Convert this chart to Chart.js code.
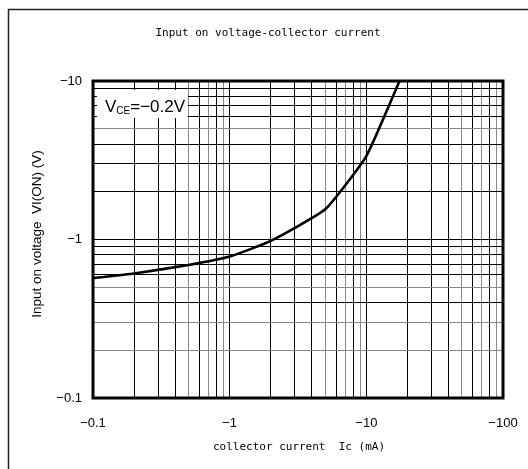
<!DOCTYPE html>
<html>
<head>
<meta charset="utf-8">
<script src="https://cdn.jsdelivr.net/npm/chart.js@4"></script>
<style>
  html, body { margin: 0; padding: 0; background: #fff; }
  #wrap { width: 528px; height: 469px; position: relative; }
</style>
</head>
<body>
<div id="wrap"><canvas id="chart" width="528" height="469"></canvas></div>
<script>
// collector current Ic (mA) and input on voltage VI(ON) (V)
const collectorCurrent = [-0.1, -0.2, -0.5, -1, -2, -5, -10, -17.5];
const inputOnVoltage = [-0.57, -0.61, -0.69, -0.78, -0.98, -1.55, -3.36, -10];
const xTickLabels = ['-0.1', '-1', '-10', '-100'];
const yTickLabels = ['-0.1', '-1', '-10'];

const titleText = 'Input on voltage-collector current';
const xTitle = 'collector current  Ic (mA)';
const yTitle = 'Input on voltage  VI(ON) (V)';

// log scales need positive numbers, the sign goes back in the labels
const points = collectorCurrent.map((x, i) => ({ x: Math.abs(x), y: Math.abs(inputOnVoltage[i]) }));

function decadeTicks(min, max) {
    const out = [];
    for (let d = min; d < max; d *= 10) {
        for (let m = 1; m < 10; m++) out.push({ value: +(d * m).toPrecision(3) });
    }
    out.push({ value: max });
    return out;
}

function labelFor(list, v) {
    const hit = list.find(t => Math.abs(Math.abs(parseFloat(t)) - v) < 1e-9);
    return hit ? hit.replace('-', '\u2212') : '';
}

function mantissa(v) {
    return Math.round(v / Math.pow(10, Math.floor(Math.log10(v) + 1e-9)));
}

const frame = {
    id: 'frame',
    beforeDraw(chart) {
        const ctx = chart.ctx;
        ctx.save();
        ctx.strokeStyle = '#222';
        ctx.lineWidth = 1.5;
        ctx.beginPath();
        ctx.moveTo(8.5, 600);
        ctx.lineTo(8.5, 9.5);
        ctx.lineTo(600, 9.5);
        ctx.stroke();
        ctx.restore();
    },
    afterDatasetsDraw(chart) {
        const ctx = chart.ctx;
        const a = chart.chartArea;
        ctx.save();
        // label box
        ctx.fillStyle = '#fff';
        ctx.fillRect(a.left + 4, a.top + 9, 91, 28);
        ctx.fillStyle = '#000';
        ctx.textBaseline = 'alphabetic';
        ctx.textAlign = 'left';
        let x = a.left + 12;
        const base = a.top + 31;
        ctx.font = '17px "Liberation Sans", Arial, sans-serif';
        ctx.fillText('V', x, base);
        x += ctx.measureText('V').width;
        ctx.font = '10px "Liberation Sans", Arial, sans-serif';
        ctx.fillText('CE', x, base + 2);
        x += ctx.measureText('CE').width;
        ctx.font = '17px "Liberation Sans", Arial, sans-serif';
        ctx.fillText('=\u22120.2V', x, base);

        // plot border
        ctx.strokeStyle = '#000';
        ctx.lineWidth = 3;
        ctx.strokeRect(a.left, a.top, a.right - a.left, a.bottom - a.top);

        // titles
        ctx.font = '11px "DejaVu Sans Mono", "Liberation Mono", monospace';
        ctx.textAlign = 'center';
        ctx.textBaseline = 'middle';
        ctx.fillText(titleText, 268, 33);
        ctx.fillText(xTitle, 299, 447);
        ctx.font = '13.5px "Liberation Sans", Arial, sans-serif';
        ctx.translate(37, 234);
        ctx.rotate(-Math.PI / 2);
        ctx.fillText(yTitle, 0, 0);
        ctx.restore();
    }
};

new Chart(document.getElementById('chart'), {
    type: 'line',
    data: {
        datasets: [{
            data: points,
            borderColor: '#000',
            borderWidth: 2.6,
            pointRadius: 0,
            tension: 0.15,
            fill: false
        }]
    },
    options: {
        responsive: false,
        animation: false,
        layout: { padding: { top: 81, right: 25, left: 0, bottom: 0 } },
        plugins: { legend: { display: false }, tooltip: { enabled: false } },
        scales: {
            x: {
                type: 'logarithmic',
                min: 0.1,
                max: 100,
                afterBuildTicks: s => { s.ticks = decadeTicks(0.1, 100); },
                afterFit: s => { s.height = 71; s.paddingLeft = 0; s.paddingRight = 0; },
                grid: {
                    drawTicks: false,
                    lineWidth: 1,
                    color: c => [5, 7, 9].includes(mantissa(c.tick.value)) ? '#8a8a8a' : '#000'
                },
                border: { display: false },
                ticks: {
                    autoSkip: false,
                    maxRotation: 0,
                    padding: 18,
                    color: '#000',
                    font: { family: '"Liberation Sans", Arial, sans-serif', size: 13 },
                    callback: v => labelFor(xTickLabels, v)
                }
            },
            y: {
                type: 'logarithmic',
                min: 0.1,
                max: 10,
                afterBuildTicks: s => { s.ticks = decadeTicks(0.1, 10); },
                afterFit: s => { s.width = 93; s.paddingTop = 0; s.paddingBottom = 0; },
                grid: {
                    drawTicks: false,
                    lineWidth: 1,
                    color: c => {
                        const v = c.tick.value;
                        return (mantissa(v) === 5 || v === 0.2 || v === 0.3) ? '#8a8a8a' : '#000';
                    }
                },
                border: { display: false },
                ticks: {
                    autoSkip: false,
                    padding: 11,
                    color: '#000',
                    font: { family: '"Liberation Sans", Arial, sans-serif', size: 13 },
                    callback: v => labelFor(yTickLabels, v)
                }
            }
        }
    },
    plugins: [frame]
});
</script>
</body>
</html>
